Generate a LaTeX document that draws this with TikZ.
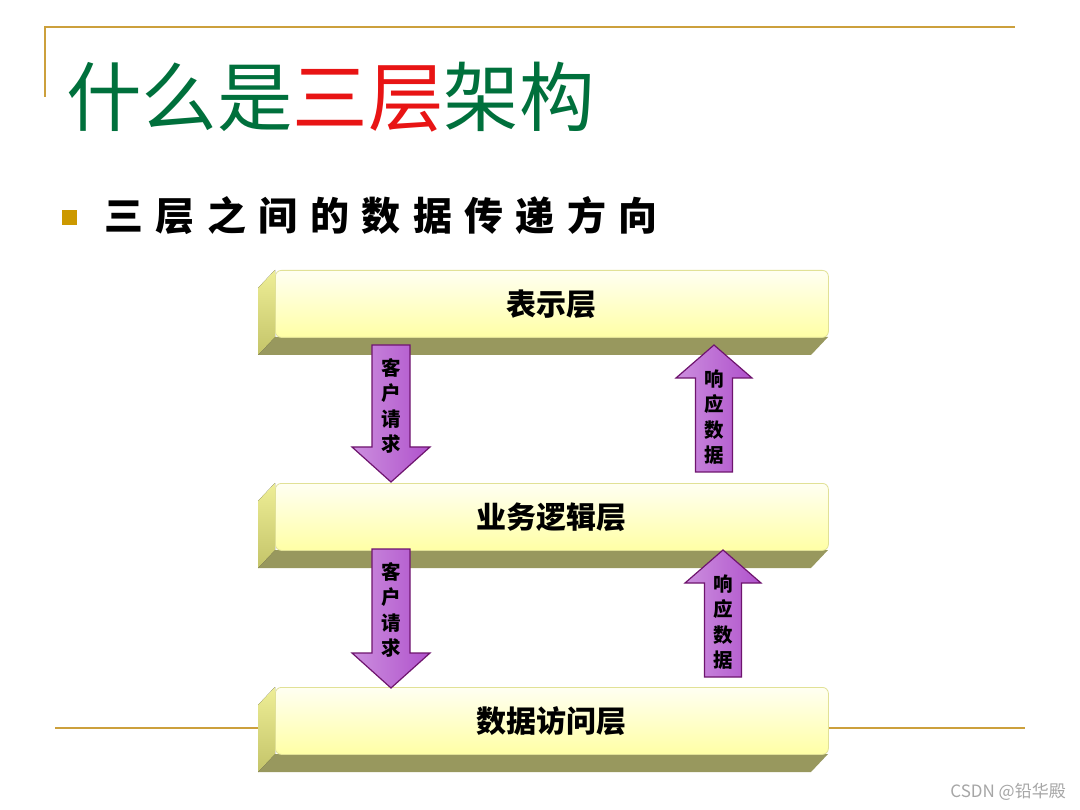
\documentclass[tikz,border=0pt]{standalone}
\usepackage{fontspec}
\setmainfont{Liberation Sans}
\newfontfamily\cjk{Noto Sans CJK SC}
\usepackage{tikz}
\usetikzlibrary{positioning,calc}

\definecolor{framegold}{RGB}{204,160,60}
\definecolor{bulletgold}{RGB}{204,153,0}
\definecolor{titlegreen}{RGB}{0,112,60}
\definecolor{titlered}{RGB}{232,20,20}
\definecolor{barlight}{RGB}{255,255,242}
\definecolor{bardark}{RGB}{255,255,165}
\definecolor{baredge}{RGB}{225,225,150}
\definecolor{sidelight}{RGB}{238,238,150}
\definecolor{sidedark}{RGB}{196,196,105}
\definecolor{barbottom}{RGB}{152,152,94}
\definecolor{arrowline}{RGB}{110,20,110}
\definecolor{arrowlight}{RGB}{248,232,252}
\definecolor{arrowdark}{RGB}{176,82,204}

\tikzset{
  layerface/.style   = {rounded corners=6pt, top color=barlight, bottom color=bardark,
                        draw=baredge, line width=0.8pt, inner sep=0pt},
  layerside/.style   = {top color=sidelight, bottom color=sidedark},
  layerbottom/.style = {fill=barbottom},
  layertext/.style   = {font=\cjk\bfseries\fontsize{30}{34}\selectfont},
  flowarrow/.style   = {draw=arrowline, line width=1.2pt, line join=miter,
                        left color=arrowdark!65!white, middle color=arrowlight,
                        right color=arrowdark},
  arrowtext/.style   = {font=\cjk\bfseries\fontsize{19.5}{25.3}\selectfont, align=center,
                        inner sep=0pt},
  goldline/.style    = {draw=framegold, line width=1.3pt},
}

% one layer: name, top of the front face, label
\newcommand{\layerbar}[3]{%
  \fill[layerbottom] (275,#2+67) -- (258,#2+85) -- (811,#2+85) -- (828,#2+67) -- cycle;
  \fill[layerside] (275,#2) -- (258,#2+18) -- (258,#2+85) -- (275,#2+67) -- cycle;
  \node[layerface, layertext, minimum width=553pt, minimum height=67pt, anchor=north west]
      (#1) at (275,#2) {#3};
}
% request arrow pointing down: name, x, top, tip, label
\newcommand{\reqarrow}[5]{%
  \path[flowarrow] (#2-19,#3) -- (#2+19,#3) -- (#2+19,#4-35) -- (#2+39,#4-35)
      -- (#2,#4) -- (#2-39,#4-35) -- (#2-19,#4-35) -- cycle;
  \node[arrowtext] (#1) at (#2,#3+61) {#5};
}
% response arrow pointing up: name, x, tip, bottom, label
\newcommand{\resarrow}[5]{%
  \path[flowarrow] (#2,#3) -- (#2+38,#3+33) -- (#2+18.5,#3+33) -- (#2+18.5,#4)
      -- (#2-18.5,#4) -- (#2-18.5,#3+33) -- (#2-38,#3+33) -- cycle;
  \node[arrowtext] (#1) at (#2,#4-55) {#5};
}

\begin{document}
\begin{tikzpicture}[x=1pt, y=-1pt]
    \useasboundingbox[fill=white] (0,0) rectangle (1080,810);

    % slide frame
    \draw[goldline] (45,97) -- (45,27) -- (1015,27);
    \draw[goldline] (55,728) -- (258,728);
    \draw[goldline] (828,728) -- (1025,728);

    % title
    \node[anchor=west, inner sep=0pt, font=\cjk\fontsize{75.5}{80}\selectfont, text=titlegreen]
        (title) at (66,97) {什么是\textcolor{titlered}{三层}架构};

    % bullet
    \fill[bulletgold] (62,210) rectangle (77,225);
    \node[anchor=west, inner sep=0pt,
          font=\cjk\bfseries\fontsize{39}{42}\selectfont\addfontfeature{LetterSpace=32}]
        (subtitle) at (104,216) {三层之间的数据传递方向};

    % layers
    \layerbar{ui}{270}{表示层}
    \layerbar{bll}{483}{业务逻辑层}
    \layerbar{dal}{687}{数据访问层}

    % data flow
    \reqarrow{req1}{391}{345}{482}{客\\户\\请\\求}
    \resarrow{res1}{714}{345}{472}{响\\应\\数\\据}
    \reqarrow{req2}{391}{549}{688}{客\\户\\请\\求}
    \resarrow{res2}{723}{550}{677}{响\\应\\数\\据}

    % watermark
    \node[anchor=east, inner sep=0pt, text=black!35, font=\cjk\fontsize{17}{20}\selectfont]
        (mark) at (1066,792) {CSDN @铅华殿};

\end{tikzpicture}
\end{document}
